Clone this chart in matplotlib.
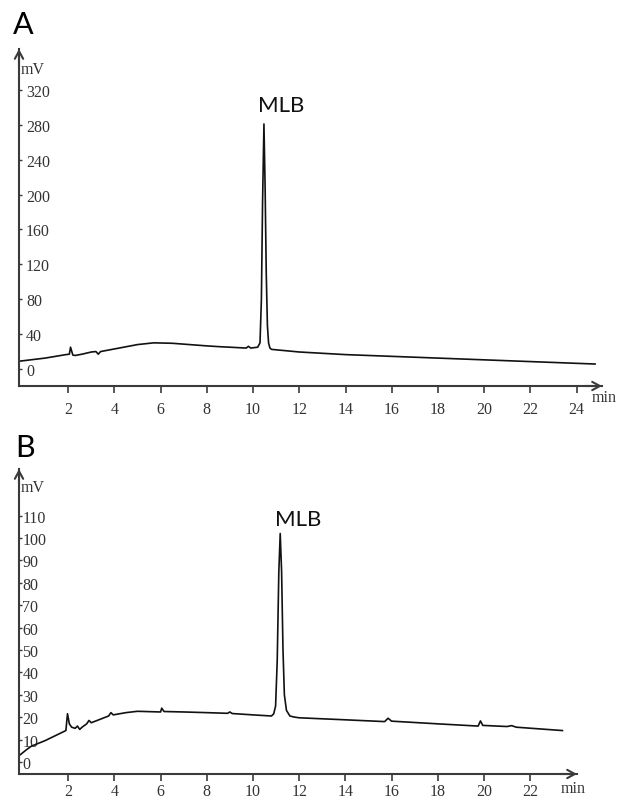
import matplotlib.pyplot as plt
import numpy as np

# chromatogram A: retention time (min) and signal (mV)
time_a = [-0.1, 1.0, 1.9, 2.05, 2.1, 2.2, 2.3, 2.6, 3.0, 3.2, 3.3, 3.4, 4.0, 5.0,
          5.7, 6.5, 7.0, 8.0, 8.6, 9.0, 9.7, 9.8, 9.9, 10.2, 10.3, 10.36, 10.41,
          10.47, 10.52, 10.57, 10.62, 10.67, 10.73, 10.8, 11.0, 12.0, 13.0, 14.0,
          16.0, 18.0, 20.0, 22.0, 24.0, 24.8]
signal_a = [9, 12.5, 16.5, 17, 25, 16, 15.5, 17, 19.5, 20, 17, 20, 23, 28,
            30, 29.5, 28.5, 26.5, 25.5, 25, 24, 26, 24, 25, 30, 80, 190,
            281, 210, 110, 50, 30, 24, 22.5, 22, 19.5, 18, 16.5,
            14.5, 12.5, 10.5, 8.5, 6.5, 5.7]

# chromatogram B
time_b = [-0.1, 0.2, 0.4, 1.0, 1.5, 1.9, 1.97, 2.05, 2.15, 2.3, 2.4, 2.5, 2.6,
          2.8, 2.9, 3.0, 3.5, 3.75, 3.85, 3.95, 4.5, 5.0, 6.0, 6.05, 6.15, 7.0,
          8.0, 8.9, 9.0, 9.1, 10.0, 10.8, 10.9, 10.98, 11.05, 11.12, 11.18, 11.24,
          11.3, 11.36, 11.45, 11.6, 11.8, 12.0, 14.0, 15.7, 15.85, 16.0, 18.0,
          19.75, 19.85, 19.95, 21.0, 21.2, 21.4, 23.4]
signal_b = [3, 5.5, 7, 9.5, 12, 14, 21.5, 17, 15.5, 15, 16, 14.5, 15.5,
            17, 18.5, 17.5, 19.5, 20.5, 22, 21, 22, 22.6, 22.3, 24, 22.5, 22.3,
            22, 21.7, 22.3, 21.6, 21, 20.5, 21.5, 25, 45, 85, 102, 85,
            50, 30, 23, 20.5, 20, 19.7, 18.8, 18, 19.5, 18.2, 17,
            16, 18.3, 16.3, 15.8, 16.2, 15.5, 14]

xticks_a = np.arange(2, 25, 2)
yticks_a = np.arange(0, 321, 40)
xticks_b = np.arange(2, 23, 2)
yticks_b = np.arange(0, 111, 10)

axis_color = "#3a3a3a"
serif = "Liberation Serif"
sans = "Lato"

fig = plt.figure(figsize=(6.26, 8.04), dpi=100)
ax_a = fig.add_axes([19 / 626, 1 - 387 / 804, (602 - 19) / 626, (387 - 50) / 804])
ax_b = fig.add_axes([19 / 626, 1 - 775 / 804, (577 - 19) / 626, (775 - 470) / 804])


def style_axes(ax, xticks, yticks, xlim, ylim, label_pad, xpad):
    ax.set_xlim(*xlim)
    ax.set_ylim(*ylim)
    for side in ["top", "right"]:
        ax.spines[side].set_visible(False)
    for side in ["left", "bottom"]:
        ax.spines[side].set_color(axis_color)
        ax.spines[side].set_linewidth(1.5)
    ax.set_xticks(xticks, labels=[str(v) for v in xticks])
    ax.set_yticks(yticks, labels=[str(v) for v in yticks], ha="left")
    ax.tick_params(axis="x", direction="out", length=5, width=1.2,
                   color=axis_color, pad=xpad, labelsize=11.5, labelcolor="#333")
    ax.tick_params(axis="y", direction="in", length=2.5, width=1.0,
                   color=axis_color, pad=-label_pad, labelsize=11.5, labelcolor="#333")
    for lab in ax.get_xticklabels() + ax.get_yticklabels():
        lab.set_family(serif)
    # arrow heads on both axes
    arrow = dict(arrowstyle="->,head_length=0.55,head_width=0.3", lw=1.5,
                 color=axis_color, shrinkA=0, shrinkB=0)
    ax.annotate("", xy=(0, 1), xytext=(0, 0.95), xycoords="axes fraction", arrowprops=arrow)
    ax.annotate("", xy=(1, 0), xytext=(0.97, 0), xycoords="axes fraction", arrowprops=arrow)
    ax.text(0.003, 0.94, "mV", transform=ax.transAxes, family=serif, fontsize=11.5,
            color="#333", ha="left", va="center")


ax_a.plot(time_a, signal_a, color="#111", lw=1.2)
style_axes(ax_a, xticks_a, yticks_a, (-0.13, 25.1), (-19.5, 367), 5, 6)
ax_a.text(10.2, 296, "MLB", family=sans, fontsize=16, ha="left", va="baseline", color="#111")
fig.text(592 / 626, 1 - 398 / 804, "min", family=serif, fontsize=11.5, color="#333",
         ha="left", va="center")

ax_b.plot(time_b, signal_b, color="#111", lw=1.2)
style_axes(ax_b, xticks_b, yticks_b, (-0.13, 24.03), (-5.4, 130.8), 2.5, 1.5)
ax_b.text(10.95, 106, "MLB", family=sans, fontsize=16, ha="left", va="baseline", color="#111")
fig.text(561 / 626, 1 - 789 / 804, "min", family=serif, fontsize=11.5, color="#333",
         ha="left", va="center")

fig.text(13 / 626, 1 - 34 / 804, "A", family=sans, fontsize=22, ha="left", va="baseline")
fig.text(15 / 626, 1 - 457 / 804, "B", family=sans, fontsize=22, ha="left", va="baseline")

fig.savefig("out.png", dpi=100)
